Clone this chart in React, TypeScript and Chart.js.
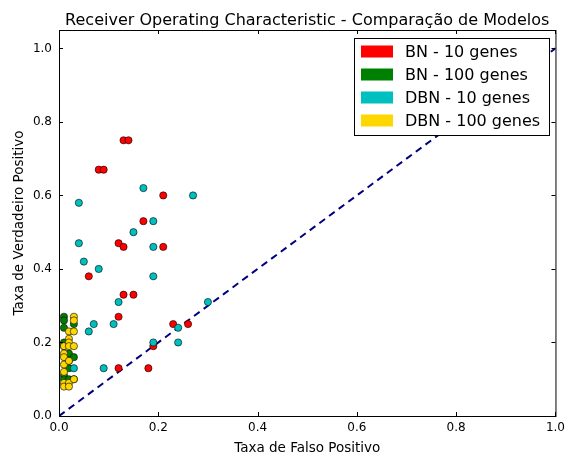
import React, { useEffect, useRef } from "react";
import { Chart, registerables } from "chart.js";

Chart.register(...registerables);

// False positive rate / true positive rate for each model
const bn10Fpr = [0.13, 0.14, 0.08, 0.09, 0.21, 0.17, 0.12, 0.13, 0.21, 0.06, 0.13, 0.15, 0.12, 0.23, 0.26, 0.19, 0.12, 0.18];
const bn10Tpr = [0.75, 0.75, 0.67, 0.67, 0.60, 0.53, 0.47, 0.46, 0.46, 0.38, 0.33, 0.33, 0.27, 0.25, 0.25, 0.19, 0.13, 0.13];

const bn100Fpr = [0.01, 0.01, 0.01, 0.01, 0.01, 0.01, 0.01, 0.02, 0.02, 0.02, 0.02, 0.03, 0.03, 0.03];
const bn100Tpr = [0.27, 0.26, 0.24, 0.20, 0.19, 0.11, 0.10, 0.17, 0.15, 0.13, 0.10, 0.25, 0.16, 0.10];

const dbn10Fpr = [0.17, 0.27, 0.04, 0.19, 0.15, 0.04, 0.19, 0.05, 0.08, 0.19, 0.12, 0.30, 0.11, 0.07, 0.06, 0.24, 0.19, 0.24, 0.09, 0.03];
const dbn10Tpr = [0.62, 0.60, 0.58, 0.53, 0.50, 0.47, 0.46, 0.42, 0.40, 0.38, 0.31, 0.31, 0.25, 0.25, 0.23, 0.24, 0.20, 0.20, 0.13, 0.13];

const dbn100Fpr = [0.01, 0.01, 0.01, 0.01, 0.01, 0.01, 0.01, 0.02, 0.02, 0.02, 0.02, 0.02, 0.02, 0.02, 0.03, 0.03, 0.03, 0.03, 0.03];
const dbn100Tpr = [0.19, 0.17, 0.16, 0.14, 0.12, 0.09, 0.08, 0.23, 0.21, 0.20, 0.19, 0.15, 0.09, 0.08, 0.27, 0.26, 0.23, 0.19, 0.10];

const seriesLabels = ["BN - 10 genes", "BN - 100 genes", "DBN - 10 genes", "DBN - 100 genes"];
const seriesColors = ["#ff0000", "#008000", "#00bfbf", "#ffd700"];

const axisTicks = [0, 0.2, 0.4, 0.6, 0.8, 1.0];
const titleText = "Receiver Operating Characteristic - Comparação de Modelos";
const xLabel = "Taxa de Falso Positivo";
const yLabel = "Taxa de Verdadeiro Positivo";

const FONT = "'DejaVu Sans', sans-serif";

const toPoints = (xs: number[], ys: number[]) => xs.map((x, i) => ({ x, y: ys[i] }));

// Frame, inward ticks, titles and the boxed legend
const decorations = {
  id: "decorations",
  afterDraw(chart: any) {
    const { ctx, chartArea: a, scales } = chart;
    const xs = scales.x;
    const ys = scales.y;
    ctx.save();
    ctx.strokeStyle = "#000";
    ctx.lineWidth = 1;
    for (const t of axisTicks) {
      const px = Math.round(xs.getPixelForValue(t)) + 0.5;
      const py = Math.round(ys.getPixelForValue(t)) + 0.5;
      ctx.beginPath();
      ctx.moveTo(px, a.bottom);
      ctx.lineTo(px, a.bottom - 4);
      ctx.moveTo(px, a.top);
      ctx.lineTo(px, a.top + 4);
      ctx.moveTo(a.left, py);
      ctx.lineTo(a.left + 4, py);
      ctx.moveTo(a.right, py);
      ctx.lineTo(a.right - 4, py);
      ctx.stroke();
    }
    ctx.strokeRect(a.left + 0.5, a.top + 0.5, a.right - a.left, a.bottom - a.top);

    // title
    ctx.fillStyle = "#000";
    ctx.font = `16px ${FONT}`;
    ctx.textAlign = "center";
    ctx.textBaseline = "alphabetic";
    ctx.fillText(titleText, (a.left + a.right) / 2, 25);

    // axis labels
    ctx.font = `13.5px ${FONT}`;
    ctx.fillText(xLabel, (a.left + a.right) / 2, 452);
    ctx.save();
    ctx.translate(23, (a.top + a.bottom) / 2);
    ctx.rotate(-Math.PI / 2);
    ctx.fillText(yLabel, 0, 0);
    ctx.restore();

    // legend
    const lx = 354.5, ly = 38.5, lw = 195, lh = 97;
    ctx.fillStyle = "#fff";
    ctx.fillRect(lx, ly, lw, lh);
    ctx.strokeStyle = "#000";
    ctx.strokeRect(lx, ly, lw, lh);
    ctx.font = `16px ${FONT}`;
    ctx.textAlign = "left";
    ctx.textBaseline = "middle";
    seriesLabels.forEach((lab, i) => {
      const cy = 51.5 + i * 23;
      ctx.fillStyle = seriesColors[i];
      ctx.fillRect(361, cy - 6, 32, 12);
      ctx.fillStyle = "#000";
      ctx.fillText(lab, 405, cy + 1);
    });
    ctx.restore();
  },
};

export default function App() {
  const ref = useRef<HTMLCanvasElement | null>(null);

  useEffect(() => {
    if (!ref.current) return;
    const scatterSet = (i: number, xs: number[], ys: number[]) => ({
      type: "scatter" as const,
      label: seriesLabels[i],
      data: toPoints(xs, ys),
      backgroundColor: seriesColors[i],
      borderColor: "rgba(0,0,0,0.75)",
      borderWidth: 0.8,
      pointRadius: 3.6,
      order: 4 - i,
    });
    const chart = new Chart(ref.current, {
      type: "scatter",
      data: {
        datasets: [
          {
            type: "line",
            label: "diagonal",
            data: [{ x: 0, y: 0 }, { x: 1, y: 1 }],
            borderColor: "#000080",
            borderWidth: 2,
            borderDash: [7, 5],
            pointRadius: 0,
            fill: false,
            order: 10,
          } as any,
          scatterSet(0, bn10Fpr, bn10Tpr),
          scatterSet(1, bn100Fpr, bn100Tpr),
          scatterSet(2, dbn10Fpr, dbn10Tpr),
          scatterSet(3, dbn100Fpr, dbn100Tpr),
        ],
      },
      options: {
        animation: false,
        responsive: false,
        layout: { padding: { top: 30, right: 13, left: 0, bottom: 0 } },
        plugins: { legend: { display: false }, tooltip: { enabled: false }, title: { display: false } },
        scales: {
          x: {
            type: "linear",
            min: 0,
            max: 1,
            grid: { display: false, drawTicks: false },
            border: { display: false },
            ticks: {
              stepSize: 0.2,
              padding: 5,
              color: "#000",
              font: { family: FONT, size: 12 },
              maxRotation: 0,
              callback: (v: any) => Number(v).toFixed(1),
            },
            afterBuildTicks: (s: any) => {
              s.ticks = axisTicks.map((value) => ({ value }));
            },
            afterFit: (s: any) => {
              s.height = 39;
            },
          },
          y: {
            type: "linear",
            min: 0,
            max: 1.05,
            grid: { display: false, drawTicks: false },
            border: { display: false },
            ticks: {
              stepSize: 0.2,
              padding: 7,
              color: "#000",
              font: { family: FONT, size: 12 },
              callback: (v: any) => Number(v).toFixed(1),
            },
            afterBuildTicks: (s: any) => {
              s.ticks = axisTicks.map((value) => ({ value }));
            },
            afterFit: (s: any) => {
              s.width = 59;
            },
          },
        },
      },
      plugins: [decorations],
    });
    return () => chart.destroy();
  }, []);

  return (
    <div style={{ position: "fixed", left: 0, top: 0, width: 570, height: 455, background: "#fff" }}>
      <canvas ref={ref} width={570} height={455} style={{ display: "block" }} />
    </div>
  );
}
